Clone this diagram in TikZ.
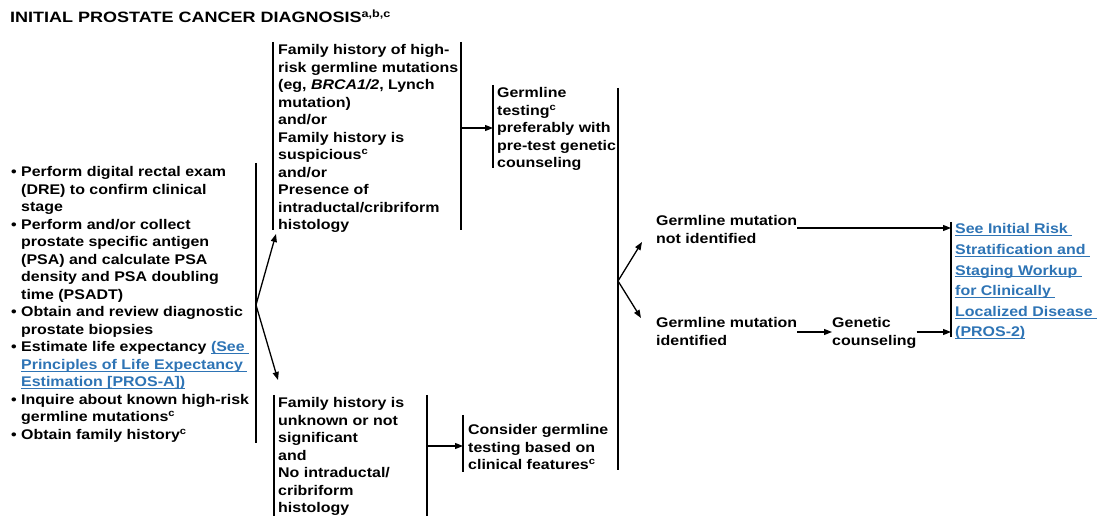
\documentclass[tikz,border=0pt]{standalone}
\usepackage{fontspec}
\setmainfont{Liberation Sans}[FakeStretch=1.14]
\newfontfamily\titlefont{Liberation Sans}[FakeStretch=1.2]
\usetikzlibrary{arrows.meta}
\definecolor{linkblue}{RGB}{46,116,181}
% underlined link text in blue
\newcommand{\lnk}[1]{{\color{linkblue}\setbox0\hbox{#1}\rlap{\rule[-2.4pt]{\wd0}{1.1pt}}\box0}}
\newcommand{\itm}{\llap{\textbullet\hspace{4.5pt}}}
\newcommand{\sups}[1]{\textsuperscript{#1}}
\begin{document}
\begin{tikzpicture}[x=1pt,y=-1pt,
  txt/.style={anchor=north west, inner sep=0pt, align=left,
              font=\bfseries\fontsize{14}{17.5}\selectfont},
  bar/.style={line width=1.3pt},
  arr/.style={line width=1.3pt, -{Triangle[length=8pt,width=6pt]}}]
\useasboundingbox (0,0) rectangle (1098,518);

% title
\node[anchor=base west, inner sep=0pt, font=\titlefont\bfseries\fontsize{15}{18}\selectfont]
  (title) at (10,22.5) {INITIAL PROSTATE CANCER DIAGNOSIS\sups{a,b,c}};

% initial workup
\node[txt] (work) at (21,166.5) {%
\itm Perform digital rectal exam\\
(DRE) to confirm clinical\\
stage\\
\itm Perform and/or collect\\
prostate specific antigen\\
(PSA) and calculate PSA\\
density and PSA doubling\\
time (PSADT)\\
\itm Obtain and review diagnostic\\
prostate biopsies\\
\itm Estimate life expectancy \lnk{(See\ }\\
\lnk{Principles of Life Expectancy\ }\\
\lnk{Estimation [PROS-A])}\\
\itm Inquire about known high-risk\\
germline mutations\sups{c}\\
\itm Obtain family history\sups{c}};
\coordinate (workT) at (256,163);
\coordinate (workB) at (256,443);
\coordinate (workS) at (256,305);
\draw[bar] (workT) -- (workB);

% family history branches
\node[txt] (famhi) at (278,44.5) {%
Family history of high-\\
risk germline mutations\\
(eg, \textit{BRCA1/2}, Lynch\\
mutation)\\
and/or\\
Family history is\\
suspicious\sups{c}\\
and/or\\
Presence of\\
intraductal/cribriform\\
histology};
\coordinate (famhiLT) at (273,42);
\coordinate (famhiLB) at (273,230);
\coordinate (famhiRT) at (461,42);
\coordinate (famhiRB) at (461,230);
\draw[bar] (famhiLT) -- (famhiLB);
\draw[bar] (famhiRT) -- (famhiRB);

\node[txt] (famlo) at (278,397.5) {%
Family history is\\
unknown or not\\
significant\\
and\\
No intraductal/\\
cribriform\\
histology};
\coordinate (famloLT) at (274,395);
\coordinate (famloLB) at (274,516);
\coordinate (famloRT) at (427,395);
\coordinate (famloRB) at (427,516);
\draw[bar] (famloLT) -- (famloLB);
\draw[bar] (famloRT) -- (famloRB);

\coordinate (famhiIn) at (276,234);
\coordinate (famloIn) at (278,380);
\draw[arr] (workS) -- (famhiIn);
\draw[arr] (workS) -- (famloIn);

% testing
\node[txt] (gtest) at (497,87.5) {%
Germline\\
testing\sups{c}\\
preferably with\\
pre-test genetic\\
counseling};
\coordinate (gtestT) at (493,85);
\coordinate (gtestB) at (493,168);
\draw[bar] (gtestT) -- (gtestB);
\draw[arr] (famhiRT |- 0,128) coordinate (famhiOut) -- (gtestT |- famhiOut);

\node[txt] (consider) at (468,424.5) {%
Consider germline\\
testing based on\\
clinical features\sups{c}};
\coordinate (considerT) at (463,415);
\coordinate (considerB) at (463,472);
\draw[bar] (considerT) -- (considerB);
\draw[arr] (famloRT |- 0,446) coordinate (famloOut) -- (considerT |- famloOut);

% results
\coordinate (resT) at (618,88);
\coordinate (resB) at (618,470);
\coordinate (resS) at (618,281);
\draw[bar] (resT) -- (resB);

\node[txt] (notid) at (656,215.5) {Germline mutation\\not identified};
\node[txt] (isid) at (656,317.5) {Germline mutation\\identified};
\node[txt] (gcoun) at (832,317.5) {Genetic\\counseling};
\coordinate (notidIn) at (642,242);
\coordinate (isidIn) at (641,318);
\draw[arr] (resS) -- (notidIn);
\draw[arr] (resS) -- (isidIn);

% next step
\node[txt, font=\bfseries\fontsize{14}{20.6}\selectfont] (next) at (955,223.5) {%
\lnk{See Initial Risk\ }\\
\lnk{Stratification and\ }\\
\lnk{Staging Workup\ }\\
\lnk{for Clinically\ }\\
\lnk{Localized Disease\ }\\
\lnk{(PROS-2)}};
\coordinate (nextT) at (951,222);
\coordinate (nextB) at (951,337);
\draw[bar] (nextT) -- (nextB);

\draw[arr] (notid.east |- 0,228) coordinate (notidOut) -- (nextT |- notidOut);
\draw[arr] (isid.east |- 0,332) coordinate (isidOut) -- (gcoun.west |- isidOut);
\draw[arr] (gcoun.east |- 0,332) coordinate (gcounOut) -- (nextT |- gcounOut);
\end{tikzpicture}
\end{document}
